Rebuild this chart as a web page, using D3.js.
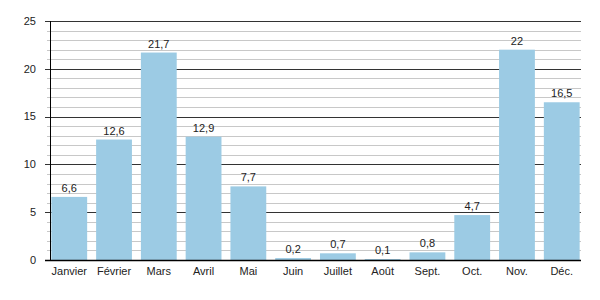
<!DOCTYPE html>
<html>
<head>
<meta charset="utf-8">
<script src="https://cdn.jsdelivr.net/npm/d3@7"></script>
<style>
  body { margin: 0; background: #fff; }
  text { font-family: "Liberation Sans", Arial, sans-serif; fill: #222; }
</style>
</head>
<body>
<div id="chart"></div>
<script>
// data
const months = ["Janvier", "Février", "Mars", "Avril", "Mai", "Juin", "Juillet", "Août", "Sept.", "Oct.", "Nov.", "Déc."]
const rainfall = [6.6, 12.6, 21.7, 12.9, 7.7, 0.2, 0.7, 0.1, 0.8, 4.7, 22, 16.5]
const yMajorTicks = [0, 5, 10, 15, 20, 25]

const width = 600, height = 300
const margin = {top: 21, right: 19, bottom: 40, left: 50}

const svg = d3.select("#chart").append("svg")
    .attr("width", width)
    .attr("height", height)

const x = d3.scaleBand()
    .domain(months)
    .range([margin.left, width - margin.right])
    .paddingInner(0.2)
    .paddingOuter(0.03)

const y = d3.scaleLinear()
    .domain([0, 25])
    .range([height - margin.bottom, margin.top])

// minor grid (every 1)
const minor = d3.range(1, 25).filter(v => v % 5 != 0)
svg.append("g").selectAll("line")
  .data(minor)
  .join("line")
    .attr("x1", margin.left - 3)
    .attr("x2", width - margin.right)
    .attr("y1", d => Math.round(y(d)) + 0.5)
    .attr("y2", d => Math.round(y(d)) + 0.5)
    .attr("stroke", "#c8c8c8")

// major grid
svg.append("g").selectAll("line")
  .data(yMajorTicks.filter(d => d > 0))
  .join("line")
    .attr("x1", margin.left - 5)
    .attr("x2", width - margin.right)
    .attr("y1", d => Math.round(y(d)) + 0.5)
    .attr("y2", d => Math.round(y(d)) + 0.5)
    .attr("stroke", "#333")

// bars
svg.append("g").selectAll("rect")
  .data(rainfall)
  .join("rect")
    .attr("x", (d, i) => x(months[i]))
    .attr("y", d => y(d))
    .attr("width", x.bandwidth())
    .attr("height", d => y(0) - y(d))
    .attr("fill", "#9ccbe4")

// value labels
const fmt = d => String(d).replace(".", ",")
svg.append("g").selectAll("text")
  .data(rainfall)
  .join("text")
    .attr("x", (d, i) => x(months[i]) + x.bandwidth() / 2)
    .attr("y", d => y(d) - 5)
    .attr("text-anchor", "middle")
    .attr("font-size", 11)
    .text(fmt)

// axes lines
svg.append("line")
    .attr("x1", margin.left + 0.5).attr("x2", margin.left + 0.5)
    .attr("y1", y(25)).attr("y2", y(0) + 1)
    .attr("stroke", "#000")
svg.append("line")
    .attr("x1", margin.left - 5).attr("x2", width - margin.right)
    .attr("y1", Math.round(y(0)) + 0.5).attr("y2", Math.round(y(0)) + 0.5)
    .attr("stroke", "#000")
    .attr("stroke-width", 1.5)

// y tick labels
svg.append("g").selectAll("text")
  .data(yMajorTicks)
  .join("text")
    .attr("x", margin.left - 14)
    .attr("y", d => y(d))
    .attr("dy", "0.35em")
    .attr("text-anchor", "end")
    .attr("font-size", 11)
    .text(d => d)

// month labels
svg.append("g").selectAll("text")
  .data(months)
  .join("text")
    .attr("x", d => x(d) + x.bandwidth() / 2)
    .attr("y", y(0) + 15)
    .attr("text-anchor", "middle")
    .attr("font-size", 11)
    .text(d => d)
</script>
</body>
</html>
